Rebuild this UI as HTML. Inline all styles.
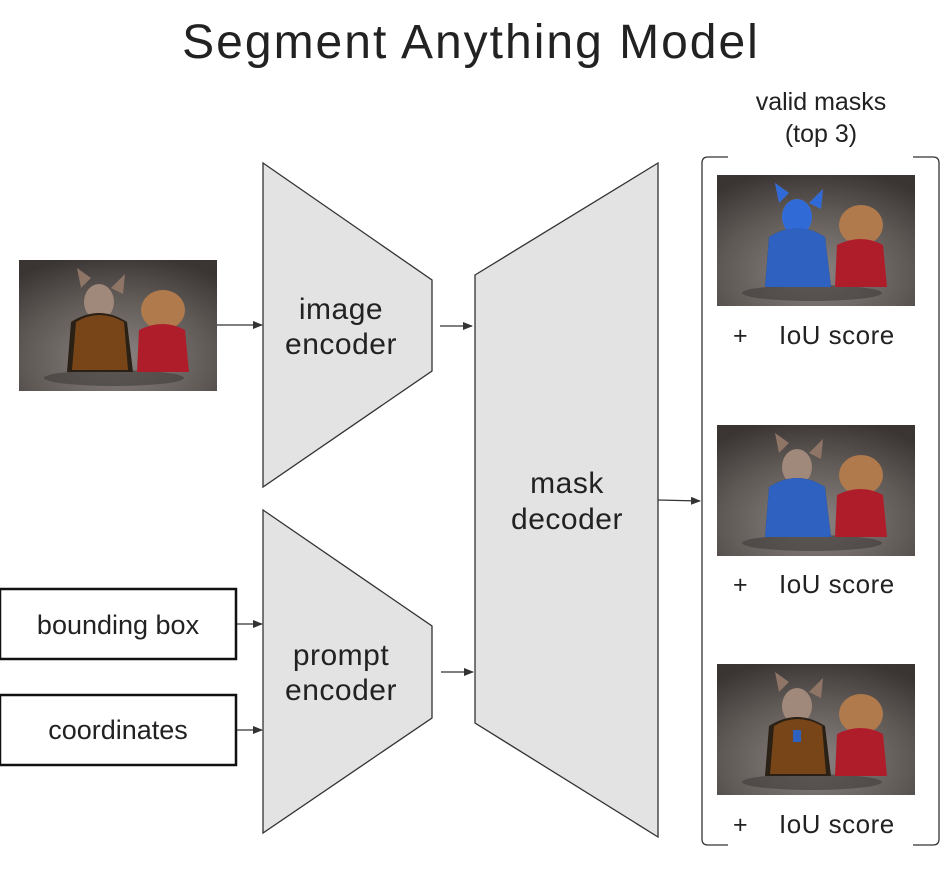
<!DOCTYPE html>
<html><head><meta charset="utf-8"><style>
body{margin:0;background:#fff;width:943px;height:880px;overflow:hidden}
svg{display:block}
text{font-family:"Liberation Sans",sans-serif;fill:#222}
</style></head><body>
<svg width="943" height="880" viewBox="0 0 943 880" xmlns="http://www.w3.org/2000/svg">
<defs>
<radialGradient id="bg" cx="0.5" cy="0.75" r="0.8">
<stop offset="0" stop-color="#8a8381"/><stop offset="0.6" stop-color="#5f5956"/><stop offset="1" stop-color="#3a3533"/>
</radialGradient>
<marker id="ar" markerWidth="10" markerHeight="8" refX="9" refY="4" orient="auto" markerUnits="userSpaceOnUse">
<path d="M0,0 L10,4 L0,8 z" fill="#333"/></marker>
<g id="dogs">
<rect width="198" height="131" fill="url(#bg)"/>
<ellipse cx="95" cy="118" rx="70" ry="8" fill="#3f3a38" opacity="0.6"/>
<ellipse cx="80" cy="42" rx="15" ry="18" fill="#a0887a"/>
<path d="M62,28 l-4,-20 l14,10z M92,28 l14,-14 l-2,20z" fill="#8e7566"/>
<path d="M52,62 q28,-18 56,0 l6,50 h-66z" fill="#2b2016"/>
<ellipse cx="144" cy="50" rx="22" ry="20" fill="#b07a4c"/>
<path d="M120,70 q24,-12 46,0 l4,42 h-52z" fill="#b01d2a"/>
</g>
</defs>

<text x="471" y="58" font-size="48" letter-spacing="2" text-anchor="middle">Segment Anything Model</text>

<use href="#dogs" x="19" y="260"/>
<g transform="translate(19,260)">
<path d="M57,62 q23,-14 48,0 l4,48 h-56z" fill="#c46a18" opacity="0.5"/>
</g>

<polygon points="263,163 432,280 432,371 263,487" fill="#e3e3e3" stroke="#333" stroke-width="1.3"/>
<text x="341" y="319" font-size="30" letter-spacing="0.5" text-anchor="middle">image</text>
<text x="341" y="354" font-size="30" letter-spacing="0.5" text-anchor="middle">encoder</text>

<polygon points="263,510 432,626 432,718 263,833" fill="#e3e3e3" stroke="#333" stroke-width="1.3"/>
<text x="341" y="665" font-size="30" letter-spacing="0.5" text-anchor="middle">prompt</text>
<text x="341" y="700" font-size="30" letter-spacing="0.5" text-anchor="middle">encoder</text>

<polygon points="475,275 658,163 658,837 475,723" fill="#e3e3e3" stroke="#333" stroke-width="1.3"/>
<text x="567" y="493" font-size="30" letter-spacing="0.5" text-anchor="middle">mask</text>
<text x="567" y="529" font-size="30" letter-spacing="0.5" text-anchor="middle">decoder</text>

<rect x="0" y="589" width="236" height="70" fill="#fff" stroke="#111" stroke-width="2.5"/>
<text x="118" y="634" font-size="27" text-anchor="middle">bounding box</text>
<rect x="0" y="695" width="236" height="70" fill="#fff" stroke="#111" stroke-width="2.5"/>
<text x="118" y="739" font-size="27" text-anchor="middle">coordinates</text>

<g stroke="#333" stroke-width="1.3" fill="none" marker-end="url(#ar)">
<line x1="217" y1="325" x2="262" y2="325"/>
<line x1="440" y1="326" x2="472" y2="326"/>
<line x1="441" y1="672" x2="473" y2="672"/>
<line x1="237" y1="624" x2="262" y2="624"/>
<line x1="237" y1="730" x2="262" y2="730"/>
<line x1="658" y1="500" x2="700" y2="501"/>
</g>

<text x="821" y="110" font-size="25" text-anchor="middle">valid masks</text>
<text x="821" y="142" font-size="25" text-anchor="middle">(top 3)</text>
<path d="M728,157 H708 Q702,157 702,163 V839 Q702,845 708,845 H728" fill="none" stroke="#333" stroke-width="1.3"/>
<path d="M913,157 H933 Q939,157 939,163 V839 Q939,845 933,845 H913" fill="none" stroke="#333" stroke-width="1.3"/>

<use href="#dogs" x="717" y="175"/>
<g transform="translate(717,175)">
<ellipse cx="80" cy="42" rx="15" ry="18" fill="#2f6ad6"/>
<path d="M62,28 l-4,-20 l14,10z M92,28 l14,-14 l-2,20z" fill="#2f6ad6"/>
<path d="M52,62 q28,-18 56,0 l6,50 h-66z" fill="#2f62c0"/>
</g>
<text x="733" y="344" font-size="25">+</text>
<text x="779" y="344" font-size="26" letter-spacing="0.5">IoU score</text>

<use href="#dogs" x="717" y="425"/>
<g transform="translate(717,425)">
<path d="M52,62 q28,-18 56,0 l6,50 h-66z" fill="#2f62c0"/>
</g>
<text x="733" y="593" font-size="25">+</text>
<text x="779" y="593" font-size="26" letter-spacing="0.5">IoU score</text>

<use href="#dogs" x="717" y="664"/>
<g transform="translate(717,664)">
<path d="M57,62 q23,-14 48,0 l4,48 h-56z" fill="#c46a18" opacity="0.5"/>
<rect x="76" y="66" width="8" height="12" fill="#2f62c0"/>
</g>
<text x="733" y="833" font-size="25">+</text>
<text x="779" y="833" font-size="26" letter-spacing="0.5">IoU score</text>
</svg>
</body></html>
